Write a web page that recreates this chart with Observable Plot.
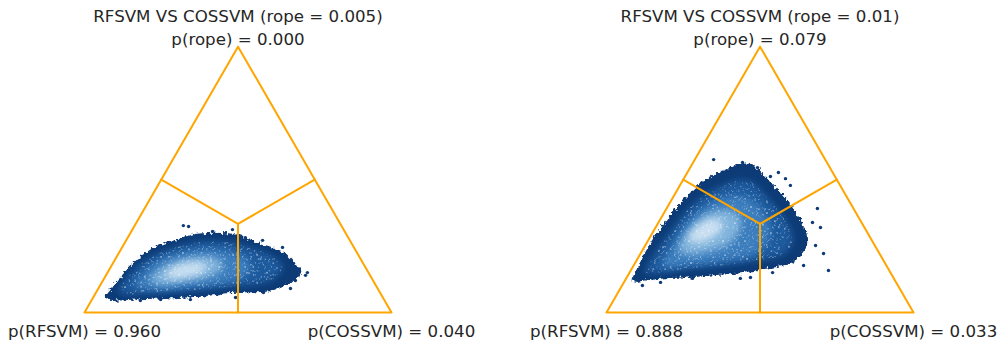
<!DOCTYPE html>
<html><head><meta charset="utf-8">
<script src="https://cdn.jsdelivr.net/npm/d3@7"></script>
<script src="https://cdn.jsdelivr.net/npm/@observablehq/plot@0.6"></script>
<style>
body{margin:0;background:#fff;}
#wrap{display:flex;width:1007px;height:344px;overflow:hidden;}
#wrap svg{display:block;}
</style></head><body><div id="wrap"></div>
<script>
// ---- data ----
const leftName = "RFSVM";
const rightName = "COSSVM";
const ropes = ["0.005", "0.01"];
const pLeft = [0.960, 0.888];
const pRope = [0.000, 0.079];
const pRight = [0.040, 0.033];

// posterior-sample density outlines, in triangle units (base 0..100, height 0..86.6)
// panel A (rope = 0.005)
const cloudA1 = [[7.2,4.9],[9.1,7.8],[11.7,11.1],[16.0,15.9],[21.5,20.2],[28.0,22.8],[35.2,25.1],[42.0,25.7],[49.8,25.1],[55.7,22.8],[60.6,21.2],[64.5,19.5],[67.8,16.3],[70.4,13.7],[69.1,11.4],[66.1,9.4],[59.9,7.2],[52.4,6.8],[45.9,6.5],[39.4,5.5],[28.0,4.9],[18.2,4.6],[10.1,4.2]];
const cloudA2 = [[11.1,6.5],[14.3,11.7],[18.9,16.3],[24.8,19.5],[32.9,22.1],[41.0,23.1],[49.2,22.5],[55.7,20.5],[61.2,18.2],[64.5,15.0],[62.2,11.4],[55.7,9.1],[47.6,8.5],[37.8,7.5],[24.8,6.5],[15.0,5.9]];
const cloudA3 = [[16.6,8.8],[19.9,13.7],[24.8,17.3],[31.3,19.5],[39.4,20.5],[46.9,19.9],[52.4,17.6],[54.1,14.3],[50.8,11.1],[42.7,9.1],[32.9,8.1],[23.1,7.5]];
const cloudA4 = [[21.5,10.4],[24.8,14.3],[30.6,16.9],[37.8,18.2],[43.6,17.3],[45.0,14.7],[41.0,11.7],[32.9,10.1],[25.4,9.1]];
const cloudA5 = [[26.4,12.1],[29.6,15.0],[35.2,16.3],[39.4,15.6],[38.8,13.4],[33.9,11.7],[28.7,11.1]];
const strayA = [[32.2,28.3],[33.9,28.0],[41.7,26.4],[48.2,27.0],[52.4,24.4],[58.0,23.5],[64.5,21.2],[68.1,16.0],[72.6,13.0],[72.0,12.1],[68.7,10.4],[67.1,7.8],[58.3,6.5],[49.2,4.9],[34.5,4.2],[24.8,4.2],[7.5,5.2],[18.2,3.9]];

// panel B (rope = 0.01)
const cloudB1 = [[8.8,10.4],[10.4,14.3],[12.7,19.5],[16.0,24.8],[19.2,29.3],[22.8,33.9],[26.7,38.1],[30.6,41.7],[34.5,44.3],[38.8,46.3],[42.7,47.9],[46.3,48.2],[49.5,46.3],[52.8,42.7],[56.7,38.8],[59.9,34.9],[62.5,30.9],[64.5,26.7],[65.1,22.8],[63.2,18.9],[59.9,16.3],[55.0,15.0],[50.2,14.3],[43.6,13.0],[35.5,12.4],[27.4,11.7],[19.2,11.4],[12.7,10.7]];
const cloudB2 = [[12.7,13.0],[16.0,19.5],[20.2,25.4],[25.1,31.9],[30.6,37.1],[36.5,40.7],[43.0,43.0],[47.6,42.3],[51.8,38.1],[56.0,33.2],[59.3,28.3],[60.6,23.5],[58.3,19.5],[53.4,17.6],[46.9,16.6],[37.1,15.3],[27.4,14.3],[17.6,13.0]];
const cloudB3 = [[18.2,15.0],[20.8,20.8],[24.8,27.4],[29.6,32.6],[35.5,36.5],[42.0,38.1],[47.6,36.5],[51.8,31.6],[53.4,26.1],[50.8,20.8],[45.3,17.9],[37.1,16.6],[27.4,15.6]];
const cloudB4 = [[23.5,20.2],[25.7,25.4],[29.6,30.0],[34.9,32.9],[40.4,33.2],[43.6,30.6],[43.0,26.1],[39.4,22.1],[33.2,19.9],[27.4,18.9]];
const cloudB5 = [[26.7,23.5],[28.7,27.4],[32.6,30.0],[36.5,30.3],[37.8,28.0],[35.2,24.8],[30.6,22.8]];
const strayB = [[34.9,49.8],[44.3,48.9],[49.2,47.2],[56.0,45.6],[53.4,44.3],[58.3,43.6],[59.9,41.4],[68.7,33.9],[69.7,27.7],[67.1,29.3],[70.7,19.2],[68.1,21.8],[64.2,15.3],[72.3,13.7],[54.1,13.0],[46.9,11.4],[43.6,11.1],[28.0,11.1],[17.6,9.8],[11.7,8.8],[8.8,11.1]];

// ternary frame in barycentric coordinates (pLeft, pRope, pRight)
const frameCorners = [[1,0,0],[0,0,1],[0,1,0]];
const centre = [1/3,1/3,1/3];
const edgeMids = [[0.5,0.5,0],[0,0.5,0.5],[0.5,0,0.5]];

// ---- drawing ----
const S3 = Math.sqrt(3) / 2;
const toXY = ([l, r0, r]) => ({x: 100 * (r + r0 / 2), y: 100 * r0 * S3});
const levelColors = ["#0b3a76", "#1b5a9e", "#3a7dbd", "#80b3dc", "#c9dff1"];

function panel(idx, width, clouds, stray) {
  const tri = frameCorners.map(toXY);
  const c = toXY(centre);
  const spokes = edgeMids.flatMap((m, i) => [{...c, k: i}, {...toXY(m), k: i}]);
  const fmt = v => v.toFixed(3);
  const labels = [
    {x: toXY(frameCorners[2]).x, y: 96.5, t: `${leftName} VS ${rightName} (rope = ${ropes[idx]})`},
    {x: toXY(frameCorners[2]).x, y: 88.9, t: `p(rope) = ${fmt(pRope[idx])}`},
    {x: toXY(frameCorners[0]).x, y: -6.4, t: `p(${leftName}) = ${fmt(pLeft[idx])}`},
    {x: toXY(frameCorners[1]).x, y: -6.4, t: `p(${rightName}) = ${fmt(pRight[idx])}`}
  ];
  const marks = [];
  clouds.forEach((pts, li) => {
    marks.push(Plot.line(pts, {
      x: d => d[0], y: d => d[1],
      curve: "catmull-rom-closed",
      fill: levelColors[li], stroke: li === 0 ? levelColors[0] : "none",
      strokeWidth: li === 0 ? 1.5 : 0,
      ariaDescription: li === 0 ? "cloud-outer" : "cloud-inner"
    }));
  });
  // fine hexbin-like grain over the body of the cloud
  marks.push(Plot.line(clouds[1], {
    x: d => d[0], y: d => d[1], curve: "catmull-rom-closed",
    fill: "white", stroke: "none", fillOpacity: 0.55, ariaDescription: "cloud-grain"
  }));
  marks.push(Plot.dot(stray, {x: d => d[0], y: d => d[1], r: 1.7, fill: levelColors[0], stroke: "none"}));
  marks.push(Plot.line(tri, {x: "x", y: "y", curve: "linear-closed", stroke: "#ffa500", strokeWidth: 2}));
  marks.push(Plot.line(spokes, {x: "x", y: "y", z: "k", stroke: "#ffa500", strokeWidth: 2}));
  marks.push(Plot.text(labels, {x: "x", y: "y", text: "t", fontSize: 16.67, fill: "#262626", textAnchor: "middle"}));
  const px = 3.07;
  const svg = Plot.plot({
    width, height: 344,
    margin: 0,
    style: {fontFamily: "DejaVu Sans, sans-serif", background: "#fff", overflow: "visible"},
    x: {domain: [-84 / px, (width - 84) / px], axis: null},
    y: {domain: [(312 - 344) / px, 312 / px], axis: null},
    marks
  });
  const b = "blur" + idx, r = "rough" + idx, g = "grain" + idx;
  d3.select(svg).insert("defs", ":first-child").html(
    `<filter id="${b}" x="-30%" y="-30%" width="160%" height="160%"><feGaussianBlur stdDeviation="3.5"/></filter>` +
    `<filter id="${r}" x="-10%" y="-10%" width="120%" height="120%"><feTurbulence type="fractalNoise" baseFrequency="0.3" numOctaves="2" seed="${3 + idx}" result="t"/><feDisplacementMap in="SourceGraphic" in2="t" scale="7" xChannelSelector="R" yChannelSelector="G"/></filter>` +
    `<filter id="${g}" x="0" y="0" width="100%" height="100%"><feTurbulence type="fractalNoise" baseFrequency="0.5" numOctaves="1" seed="${11 + idx}" result="n"/><feColorMatrix in="n" type="matrix" values="0 0 0 0 1  0 0 0 0 1  0 0 0 0 1  5 0 0 0 -2.9" result="w"/><feComposite in="w" in2="SourceGraphic" operator="in"/></filter>`);
  d3.select(svg).selectAll('g[aria-description="cloud-inner"]').attr("filter", `url(#${b})`);
  d3.select(svg).selectAll('g[aria-description="cloud-outer"]').attr("filter", `url(#${r})`);
  d3.select(svg).selectAll('g[aria-description="cloud-grain"]').attr("filter", `url(#${g})`);
  return svg;
}

const wrap = document.getElementById("wrap");
wrap.appendChild(panel(0, 522, [cloudA1, cloudA2, cloudA3, cloudA4, cloudA5], strayA));
wrap.appendChild(panel(1, 485, [cloudB1, cloudB2, cloudB3, cloudB4, cloudB5], strayB));
</script></body></html>
